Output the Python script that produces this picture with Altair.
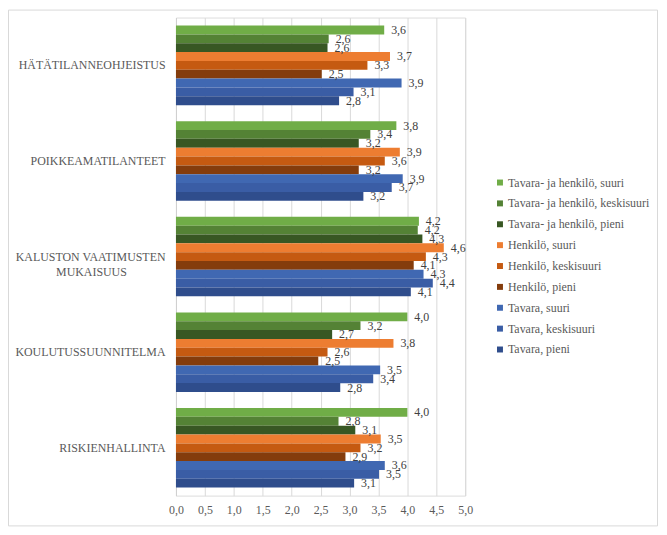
import altair as alt
import pandas as pd

categories = [
    "HÄTÄTILANNEOHJEISTUS",
    "POIKKEAMATILANTEET",
    "KALUSTON VAATIMUSTEN MUKAISUUS",
    "KOULUTUSSUUNNITELMA",
    "RISKIENHALLINTA",
]

series = [
    "Tavara- ja henkilö, suuri",
    "Tavara- ja henkilö, keskisuuri",
    "Tavara- ja henkilö, pieni",
    "Henkilö, suuri",
    "Henkilö, keskisuuri",
    "Henkilö, pieni",
    "Tavara, suuri",
    "Tavara, keskisuuri",
    "Tavara, pieni",
]

colors = [
    "#70AD47", "#548235", "#385723",
    "#ED7D31", "#C55A11", "#843C0C",
    "#4068B2", "#3A5DA5", "#2F4D8C",
]

# values per series, in category order
tjh_suuri = [3.60, 3.81, 4.20, 4.00, 4.00]
tjh_keski = [2.64, 3.36, 4.18, 3.19, 2.81]
tjh_pieni = [2.62, 3.16, 4.26, 2.70, 3.10]
h_suuri = [3.70, 3.87, 4.63, 3.76, 3.54]
h_keski = [3.31, 3.61, 4.32, 2.62, 3.19]
h_pieni = [2.52, 3.16, 4.11, 2.46, 2.93]
t_suuri = [3.90, 3.92, 4.28, 3.53, 3.61]
t_keski = [3.07, 3.73, 4.44, 3.41, 3.51]
t_pieni = [2.82, 3.24, 4.06, 2.84, 3.08]

all_values = [tjh_suuri, tjh_keski, tjh_pieni, h_suuri, h_keski, h_pieni,
              t_suuri, t_keski, t_pieni]

x_ticks = [0, 0.5, 1, 1.5, 2, 2.5, 3, 3.5, 4, 4.5, 5]

rows = []
for s, vals in zip(series, all_values):
    for c, v in zip(categories, vals):
        rows.append({"kategoria": c, "sarja": s, "arvo": v})
df = pd.DataFrame(rows)

FONT = "Times New Roman, Liberation Serif, DejaVu Serif, serif"
W, H = 291, 481
PAD = {"left": 169, "top": 8, "right": 195, "bottom": 32}

# second line of the two-line label is centred under the first one
nb = "\u00a0" * 13 + "\u200b"
label_expr = (
    "datum.label == 'KALUSTON VAATIMUSTEN MUKAISUUS' ? "
    "['KALUSTON VAATIMUSTEN', 'MUKAISUUS" + nb + "'] : datum.label"
)

y_scale = alt.Scale(paddingInner=0.168, paddingOuter=0.084)
x_scale = alt.Scale(domain=[0, 5], nice=False, zero=True)

y_axis = alt.Axis(
    title=None,
    ticks=False,
    tickSize=0,
    grid=False,
    domain=True,
    domainColor="#D0D0D0",
    labelPadding=11,
    labelFont=FONT,
    labelFontSize=12,
    labelColor="#595959",
    labelLineHeight=16,
    labelExpr=label_expr,
    labelLimit=300,
)
x_axis = alt.Axis(
    title=None,
    values=x_ticks,
    ticks=False,
    domain=False,
    grid=True,
    gridColor="#D9D9D9",
    labelPadding=9,
    labelOverlap=False,
    labelFlush=False,
    labelFont=FONT,
    labelFontSize=12,
    labelColor="#595959",
    labelExpr="replace(format(datum.value, '.1f'), '.', ',')",
)

y_enc = alt.Y("kategoria:N", sort=categories, scale=y_scale, axis=y_axis)
x_enc = alt.X("arvo:Q", scale=x_scale, axis=x_axis)
yoff = alt.YOffset("sarja:N", sort=series)

base = alt.Chart(df)

bars = base.mark_bar(size=8.9).encode(
    y=y_enc,
    x=x_enc,
    yOffset=yoff,
    color=alt.Color(
        "sarja:N",
        sort=series,
        scale=alt.Scale(domain=series, range=colors),
        legend=alt.Legend(
            title=None,
            orient="none",
            legendX=320,
            legendY=160,
            padding=0,
            symbolType="square",
            symbolSize=36,
            symbolStrokeWidth=0,
            labelFont=FONT,
            labelFontSize=12,
            labelColor="#595959",
            labelOffset=2,
            rowPadding=9,
            labelLimit=300,
        ),
    ),
)

labels = base.transform_calculate(
    teksti="replace(format(datum.arvo, '.1f'), '.', ',')"
).mark_text(
    align="left", baseline="middle", dx=7, font=FONT, fontSize=12, color="#404040"
).encode(
    y=y_enc,
    x=x_enc,
    yOffset=yoff,
    text="teksti:N",
)

frame = alt.Chart(alt.Data(values=[{"k": 1}])).mark_rect(
    fillOpacity=0, stroke="#D9D9D9", strokeWidth=1
).encode(
    x=alt.value(-168.5),
    x2=alt.value(484.5),
    y=alt.value(-7.5),
    y2=alt.value(511.5),
)

chart = alt.layer(bars, labels, frame).properties(
    width=W,
    height=H,
    autosize=alt.AutoSizeParams(type="none"),
    padding=PAD,
).configure_view(strokeWidth=0, stroke="transparent").configure(font=FONT)

chart.save("out.html", embed_options={"renderer": "svg", "actions": False})
